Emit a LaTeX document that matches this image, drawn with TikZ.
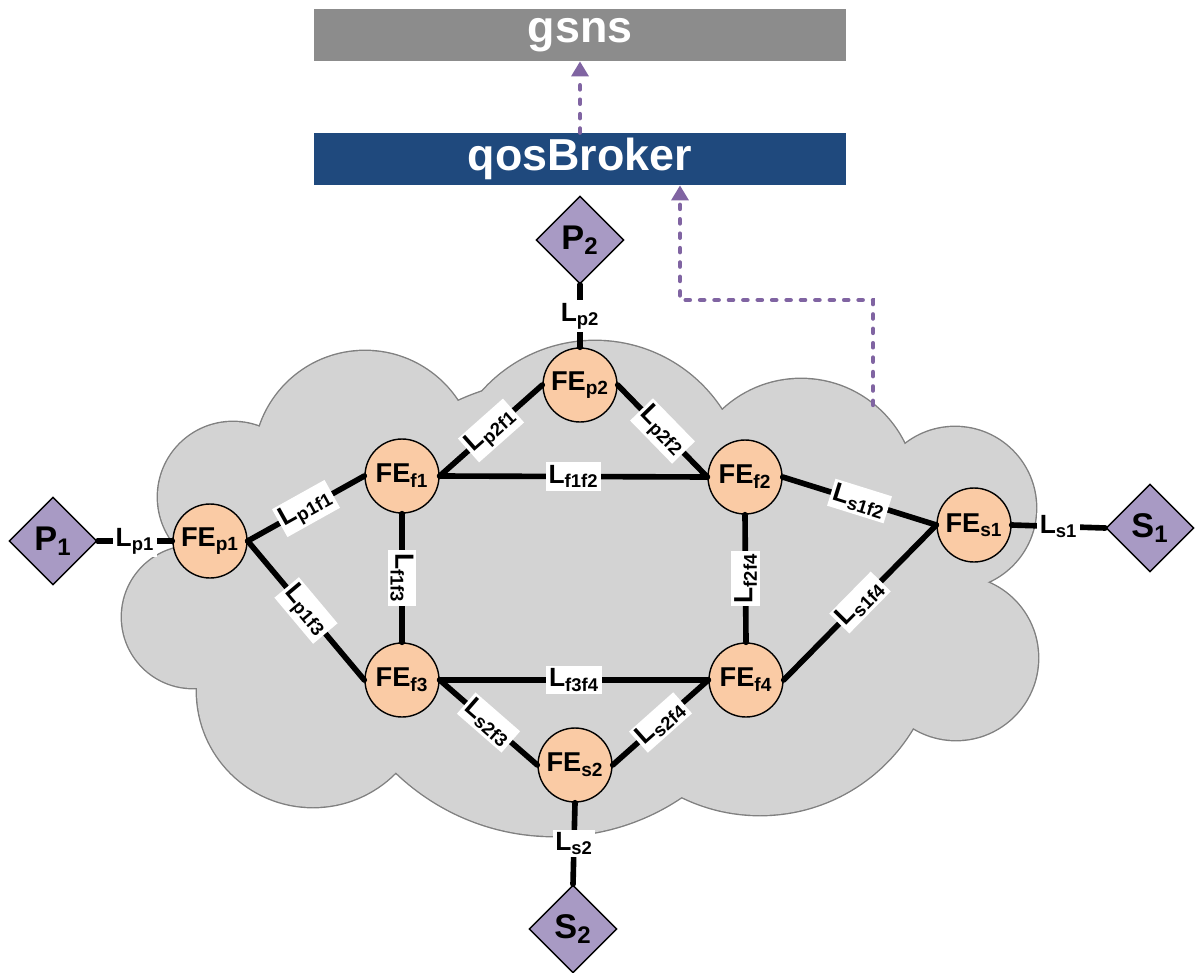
\documentclass[tikz,border=0pt]{standalone}
\usepackage{fontspec}
\setmainfont{Liberation Sans}
\usepackage{tikz}
\usetikzlibrary{arrows.meta,shapes.geometric}

\definecolor{cloudfill}{RGB}{211,211,211}
\definecolor{cloudline}{RGB}{128,128,128}
\definecolor{gsnsgray}{RGB}{140,140,140}
\definecolor{qosblue}{RGB}{31,73,125}
\definecolor{fepeach}{RGB}{250,203,165}
\definecolor{endpurple}{RGB}{168,154,196}
\definecolor{sigpurple}{RGB}{128,100,162}

\newcommand{\fe}[1]{FE\textsubscript{#1}}
\newcommand{\lk}[1]{L\textsubscript{#1}}

\begin{document}
\begin{tikzpicture}[x=0.02cm,y=-0.02cm,font=\bfseries,
        fenode/.style={circle,draw=black,line width=0.8pt,fill=fepeach,minimum size=1.48cm,inner sep=0pt,font=\fontsize{15.5}{17}\selectfont\bfseries},
        endnode/.style={diamond,draw=black,line width=0.8pt,fill=endpurple,minimum width=1.76cm,minimum height=1.76cm,inner sep=0pt,font=\fontsize{19.5}{21}\selectfont\bfseries},
        bar/.style={rectangle,minimum width=10.64cm,minimum height=1.04cm,inner sep=0pt,text=white,font=\fontsize{25.5}{27}\selectfont\bfseries},
        link/.style={line width=3.2pt,line cap=round},
        lbl/.style={fill=white,inner sep=1.5pt,font=\fontsize{15}{17}\selectfont\bfseries},
        signal/.style={draw=sigpurple,line width=2.5pt,dash pattern=on 2.4pt off 5.8pt,line cap=round,-{Triangle[length=8.5pt,width=9.5pt]}},
        cloudedge/.style={draw=cloudline,line width=1.6pt}]
    \useasboundingbox (0,0) rectangle (1196,973);

    \foreach \cx/\cy/\r in {233/497/75,365/462/111,595/492/151,801/494/115,955/508/81,956/658/82,760/637/178,554/608/228,313/691/116,193/617/71}
        \draw[cloudedge] (\cx,\cy) circle[radius=\r];
    \foreach \cx/\cy/\r in {233/497/75,365/462/111,595/492/151,801/494/115,955/508/81,956/658/82,760/637/178,554/608/228,313/691/116,193/617/71}
        \fill[cloudfill] (\cx,\cy) circle[radius=\r];
    \fill[cloudfill] (233,497) -- (365,462) -- (595,492) -- (801,494) -- (955,508) -- (956,658)
        -- (760,637) -- (554,608) -- (313,691) -- (193,617) -- cycle;

    \node   [bar,fill=gsnsgray]     at (580,35)     (gsns)  {gsns};
    \node   [bar,fill=qosblue]      at (580,159)    (qos)   {qosBroker};

    \node   [endnode]   at (53,541)     (p1)    {P\textsubscript{1}};
    \node   [endnode]   at (580,240)    (p2)    {P\textsubscript{2}};
    \node   [endnode]   at (1150,528)   (s1)    {S\textsubscript{1}};
    \node   [endnode]   at (573,929)    (s2)    {S\textsubscript{2}};

    \node   [fenode]    at (210,541)    (fep1)  {\fe{p1}};
    \node   [fenode]    at (580,385)    (fep2)  {\fe{p2}};
    \node   [fenode]    at (402,476)    (fef1)  {\fe{f1}};
    \node   [fenode]    at (745,477)    (fef2)  {\fe{f2}};
    \node   [fenode]    at (974,525)    (fes1)  {\fe{s1}};
    \node   [fenode]    at (402,680)    (fef3)  {\fe{f3}};
    \node   [fenode]    at (746,680)    (fef4)  {\fe{f4}};
    \node   [fenode]    at (575,765)    (fes2)  {\fe{s2}};

    \path[link] (p1.east) edge node[lbl] {\lk{p1}} (fep1.west)
        (p2.south) edge node[lbl] {\lk{p2}} (fep2.north)
        (fes1.east) edge node[lbl] {\lk{s1}} (s1.west)
        (fes2.south) edge node[lbl] {\lk{s2}} (s2.north);

    \path[link] (fep1.east) edge node[lbl,sloped] {\lk{p1f1}} (fef1.west)
        (fep1.east) edge node[lbl,sloped] {\lk{p1f3}} (fef3.west)
        (fef1.east) edge node[lbl,sloped] {\lk{p2f1}} (fep2.west)
        (fep2.east) edge node[lbl,sloped] {\lk{p2f2}} (fef2.west)
        (fef1.east) edge node[lbl] {\lk{f1f2}} (fef2.west)
        (fef1.south) edge node[lbl,rotate=-90] {\lk{f1f3}} (fef3.north)
        (fef4.north) edge node[lbl,rotate=90] {\lk{f2f4}} (fef2.south)
        (fef2.east) edge node[lbl,sloped] {\lk{s1f2}} (fes1.west)
        (fes1.west) edge node[lbl,sloped] {\lk{s1f4}} (fef4.east)
        (fef3.east) edge node[lbl] {\lk{f3f4}} (fef4.west)
        (fef3.east) edge node[lbl,sloped] {\lk{s2f3}} (fes2.west)
        (fes2.east) edge node[lbl,sloped] {\lk{s2f4}} (fef4.west);

    \coordinate (cloudtop) at (873,405);
    \coordinate (turn) at (680,300);
    \draw[signal] (qos.north) -- (gsns.south);
    \draw[signal] (cloudtop) |- (turn) -- (qos.south -| turn);
\end{tikzpicture}
\end{document}
